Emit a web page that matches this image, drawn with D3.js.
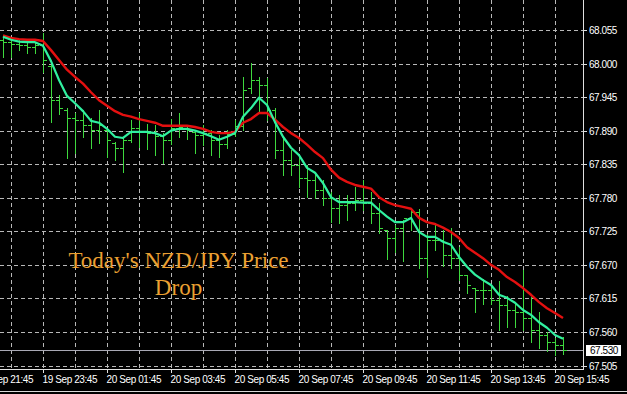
<!DOCTYPE html>
<html><head><meta charset="utf-8">
<script src="https://cdn.jsdelivr.net/npm/d3@7"></script>
<style>body{margin:0;background:#000;overflow:hidden}svg{display:block}</style>
</head><body><svg id="c" width="627" height="394"></svg>
<script>
// ---- data (M15 bars, NZD/JPY) ----
const startTime = "19 Sep 22:30";
const barCount = 71;
const open = [68.039,68.035,68.032,68.031,68.027,68.031,67.996,67.940,67.924,67.911,
67.908,67.899,67.891,67.891,67.870,67.862,67.875,67.895,67.890,67.886,
67.881,67.875,67.895,67.895,67.888,67.883,67.886,67.875,67.868,67.885,
67.898,67.960,67.973,67.965,67.924,67.858,67.842,67.834,67.813,67.809,
67.793,67.780,67.763,67.768,67.772,67.776,67.772,67.755,67.727,67.714,
67.731,67.747,67.757,67.681,67.711,67.711,67.686,67.681,67.654,67.632,
67.629,67.629,67.613,67.604,67.596,67.593,67.583,67.563,67.555,67.544,67.539];
const high = [68.047,68.040,68.039,68.034,68.035,68.050,67.998,67.949,67.927,67.919,
67.924,67.911,67.924,67.891,67.872,67.880,67.908,67.919,67.901,67.899,
67.886,67.909,67.919,67.896,67.890,67.899,67.891,67.883,67.891,67.908,
67.978,68.001,67.978,67.976,67.927,67.880,67.858,67.847,67.834,67.822,
67.809,67.790,67.785,67.785,67.798,67.809,67.790,67.772,67.727,67.736,
67.744,67.763,67.762,67.721,67.739,67.727,67.731,67.699,67.654,67.632,
67.647,67.634,67.644,67.619,67.608,67.662,67.617,67.593,67.560,67.550,67.552];
const low = [68.011,68.011,68.022,68.017,68.017,67.986,67.904,67.917,67.845,67.854,
67.880,67.862,67.870,67.847,67.842,67.822,67.872,67.863,67.860,67.850,
67.837,67.868,67.880,67.876,67.854,67.867,67.850,67.847,67.862,67.881,
67.891,67.952,67.919,67.908,67.845,67.817,67.817,67.798,67.781,67.780,
67.768,67.740,67.739,67.744,67.760,67.760,67.739,67.722,67.680,67.691,
67.676,67.727,67.665,67.650,67.695,67.668,67.665,67.645,67.624,67.593,
67.606,67.606,67.563,67.568,67.568,67.563,67.544,67.534,67.529,67.522,67.524];
const close = [68.035,68.032,68.031,68.027,68.031,68.006,67.940,67.927,67.911,67.908,
67.899,67.891,67.899,67.875,67.862,67.875,67.895,67.890,67.886,67.881,
67.875,67.895,67.896,67.891,67.883,67.886,67.875,67.868,67.885,67.898,
67.957,67.973,67.965,67.924,67.858,67.842,67.834,67.813,67.809,67.793,
67.780,67.763,67.768,67.772,67.776,67.772,67.755,67.731,67.714,67.731,
67.747,67.757,67.681,67.711,67.711,67.686,67.681,67.654,67.637,67.629,
67.629,67.613,67.604,67.596,67.593,67.583,67.563,67.555,67.544,67.539,67.530];
const maFast = [68.044,68.039,68.036,68.035,68.035,68.029,68.004,67.973,67.947,67.935,
67.922,67.906,67.903,67.893,67.880,67.878,67.888,67.888,67.888,67.886,
67.881,67.890,67.893,67.893,67.890,67.886,67.881,67.875,67.880,67.886,
67.913,67.927,67.944,67.932,67.904,67.880,67.862,67.850,67.829,67.821,
67.804,67.781,67.773,67.773,67.773,67.772,67.772,67.760,67.749,67.740,
67.740,67.747,67.724,67.716,67.716,67.708,67.703,67.683,67.667,67.654,
67.645,67.637,67.621,67.616,67.608,67.596,67.588,67.576,67.567,67.555,67.549];
const maSlow = [68.046,68.042,68.040,68.039,68.039,68.037,68.022,68.006,67.990,67.978,
67.967,67.953,67.940,67.931,67.922,67.916,67.913,67.909,67.906,67.903,
67.898,67.898,67.898,67.898,67.896,67.893,67.888,67.886,67.886,67.888,
67.903,67.909,67.919,67.919,67.908,67.896,67.886,67.878,67.867,67.855,
67.845,67.826,67.813,67.806,67.801,67.798,67.795,67.781,67.773,67.768,
67.765,67.762,67.747,67.740,67.737,67.731,67.724,67.714,67.699,67.690,
67.681,67.670,67.662,67.650,67.642,67.632,67.621,67.609,67.599,67.591,67.583];
const priceTicks = [68.110,68.055,68.000,67.945,67.890,67.835,67.780,67.725,67.670,67.615,67.560,67.505];
const timeTickLabels = ["19 Sep 21:45","19 Sep 23:45","20 Sep 01:45","20 Sep 03:45","20 Sep 05:45",
"20 Sep 07:45","20 Sep 09:45","20 Sep 11:45","20 Sep 13:45","20 Sep 15:45"];
const gridStart = "19 Sep 21:45";
const lastPrice = 67.530;
const caption = ["Today's NZD/JPY Price", "Drop"];

// ---- layout ----
const plotRight = 584, plotBottom = 370;
const svg = d3.select("#c");
svg.append("rect").attr("width",627).attr("height",394).attr("fill","#000");

const parse = d3.timeParse("%d %b %H:%M");
const t0 = parse(startTime);
const times = d3.range(barCount).map(i => d3.timeMinute.offset(t0, 15*i));
const x = d3.scaleTime().domain([t0, times[barCount-1]]).range([3, 563]);
const y = d3.scaleLinear().domain([lastPrice, 68.055]).range([350.3, 30]);
const px = v => Math.round(v) + 0.5;

const clip = svg.append("clipPath").attr("id","pc").append("rect")
  .attr("x",0).attr("y",0).attr("width",plotRight).attr("height",plotBottom);
const plot = svg.append("g").attr("clip-path","url(#pc)");

// grid
const gridColor = "#b8b8b8";
const g0 = parse(gridStart);
const hourLines = d3.range(0, 21).map(h => d3.timeHour.offset(g0, h)).filter(t => x(t) > 0 && x(t) < plotRight);
plot.append("g").selectAll("line").data(priceTicks).join("line")
  .attr("x1",0).attr("x2",plotRight)
  .attr("y1",d=>px(y(d))).attr("y2",d=>px(y(d)))
  .attr("stroke",gridColor).attr("stroke-width",1).attr("stroke-dasharray","4,3")
  .attr("shape-rendering","crispEdges");
plot.append("g").selectAll("line").data(hourLines).join("line")
  .attr("x1",d=>px(x(d))).attr("x2",d=>px(x(d)))
  .attr("y1",0).attr("y2",plotBottom)
  .attr("stroke",gridColor).attr("stroke-width",1).attr("stroke-dasharray","4,3")
  .attr("shape-rendering","crispEdges");

// current price line
plot.append("line").attr("x1",0).attr("x2",plotRight)
  .attr("y1",px(y(lastPrice))).attr("y2",px(y(lastPrice)))
  .attr("stroke","#a8a8b4").attr("stroke-width",1).attr("shape-rendering","crispEdges");

// OHLC bars
const barColor = "#3ed93e";
const bars = plot.append("g").attr("stroke",barColor).attr("stroke-width",1).attr("shape-rendering","crispEdges");
const idx = d3.range(barCount);
bars.selectAll("line.hl").data(idx).join("line").attr("class","hl")
  .attr("x1",i=>px(x(times[i]))).attr("x2",i=>px(x(times[i])))
  .attr("y1",i=>Math.round(y(high[i]))).attr("y2",i=>Math.round(y(low[i]))+1);
bars.selectAll("line.o").data(idx).join("line").attr("class","o")
  .attr("x1",i=>Math.round(x(times[i]))-3).attr("x2",i=>Math.round(x(times[i])))
  .attr("y1",i=>px(y(open[i]))).attr("y2",i=>px(y(open[i])));
bars.selectAll("line.c").data(idx).join("line").attr("class","c")
  .attr("x1",i=>Math.round(x(times[i]))+1).attr("x2",i=>Math.round(x(times[i]))+4)
  .attr("y1",i=>px(y(close[i]))).attr("y2",i=>px(y(close[i])));

// moving averages
const line = d3.line().x((d,i)=>x(times[i])).y(d=>y(d));
plot.append("path").datum(maSlow).attr("d",line).attr("fill","none")
  .attr("stroke","#e41010").attr("stroke-width",2.4).attr("stroke-linejoin","round");
plot.append("path").datum(maFast).attr("d",line).attr("fill","none")
  .attr("stroke","#30f0a0").attr("stroke-width",2.2).attr("stroke-linejoin","round");

// caption
const cap = svg.append("text").attr("x",178.5).attr("y",268)
  .attr("text-anchor","middle").attr("fill","#eba032")
  .style("font-family","'Liberation Serif','Times New Roman',serif").style("font-size","23px");
cap.selectAll("tspan").data(caption).join("tspan")
  .attr("x",178.5).attr("dy",(d,i)=>i===0?0:27).text(d=>d);

// frame
svg.append("line").attr("x1",px(plotRight)-1).attr("x2",px(plotRight)-1).attr("y1",0).attr("y2",plotBottom)
  .attr("stroke","#e0e0e0").attr("shape-rendering","crispEdges");
svg.append("line").attr("x1",0).attr("x2",plotRight).attr("y1",plotBottom-0.5).attr("y2",plotBottom-0.5)
  .attr("stroke","#e0e0e0").attr("shape-rendering","crispEdges");
svg.append("line").attr("x1",0).attr("x2",627).attr("y1",391.5).attr("y2",391.5)
  .attr("stroke","#d8d8d8").attr("shape-rendering","crispEdges");

// right price axis
const fmt = d3.format(".3f");
const yAxis = d3.axisRight(y).tickValues(priceTicks).tickSize(4).tickPadding(2).tickFormat(fmt);
const ya = svg.append("g").attr("transform",`translate(${plotRight-1},0)`).call(yAxis);
ya.select(".domain").remove();
ya.selectAll(".tick line").attr("stroke","#e0e0e0").attr("shape-rendering","crispEdges");
ya.selectAll(".tick text").attr("fill","#fff")
  .style("font-family","'Liberation Sans',Arial,sans-serif").style("font-size","10px").style("letter-spacing","-0.45px");
ya.selectAll(".tick").attr("transform",d=>`translate(0,${px(y(d))})`);

// last price marker
svg.append("rect").attr("x",586).attr("y",Math.round(y(lastPrice))-5).attr("width",35).attr("height",11).attr("fill","#fff");
svg.append("text").attr("x",590).attr("y",px(y(lastPrice))).attr("dy","0.32em").attr("fill","#000")
  .style("font-family","'Liberation Sans',Arial,sans-serif").style("font-size","10px").style("letter-spacing","-0.45px")
  .text(fmt(lastPrice));

// time axis
const tickTimes = timeTickLabels.map(parse);
const xAxis = d3.axisBottom(x).tickValues(tickTimes).tickSize(4)
  .tickFormat((d,i)=>timeTickLabels[i]);
const xa = svg.append("g").attr("transform",`translate(0,${plotBottom-1})`).call(xAxis);
xa.select(".domain").remove();
xa.selectAll(".tick").attr("transform",d=>`translate(${px(x(d))},0)`);
xa.selectAll(".tick line").attr("stroke","#e0e0e0").attr("shape-rendering","crispEdges");
xa.selectAll(".tick text").attr("fill","#fff").attr("text-anchor","start").attr("x",-1).attr("y",14).attr("dy",null)
  .style("font-family","'Liberation Sans',Arial,sans-serif").style("font-size","10px").style("letter-spacing","-0.4px");
</script>
</body></html>
